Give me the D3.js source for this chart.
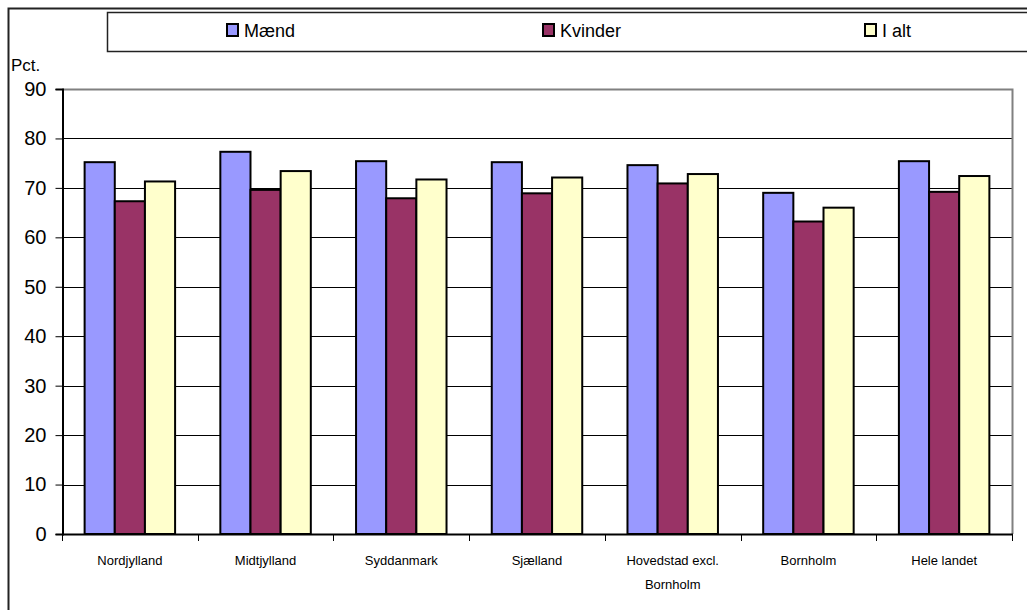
<!DOCTYPE html>
<head>
    <script type="text/javascript" src="https://d3js.org/d3.v7.min.js"></script>
    <style>
        body { margin: 0; }
        svg { font-family: Arial, "Liberation Sans", sans-serif; }
    </style>
</head>

<svg class="chart" width="1027" height="610"></svg>

<script>
    var regions = ["Nordjylland", "Midtjylland", "Syddanmark", "Sjælland", "Hovedstad excl. Bornholm", "Bornholm", "Hele landet"];
    var seriesNames = ["Mænd", "Kvinder", "I alt"];
    var maend   = [75.2, 77.3, 75.4, 75.2, 74.6, 69.0, 75.4];
    var kvinder = [67.3, 69.6, 67.9, 68.9, 70.9, 63.2, 69.2];
    var ialt    = [71.3, 73.4, 71.7, 72.1, 72.8, 66.0, 72.4];
    var yTicks  = [0, 10, 20, 30, 40, 50, 60, 70, 80, 90];
    var colors  = ["#9999ff", "#993366", "#ffffcc"];

    var series = [maend, kvinder, ialt];

    // note: "top" is reserved on window, so use plot* names
    var plotLeft = 62, plotRight = 1012, plotTop = 89, plotBottom = 534;

    var svg = d3.select(".chart");

    // outer chart frame
    svg.append("path")
        .attr("d", "M8.5,640 L8.5,8.5 L1100,8.5")
        .attr("fill", "none").attr("stroke", "#222").attr("stroke-width", 2);

    var x0 = d3.scaleBand().domain(regions).range([plotLeft, plotRight]).paddingInner(1.5 / 4.5).paddingOuter(0.75 / 4.5);
    var x1 = d3.scaleBand().domain(d3.range(3)).range([0, x0.bandwidth()]);
    var y = d3.scaleLinear().domain([0, 90]).range([plotBottom, plotTop]);

    // gridlines
    svg.append("g").selectAll("line")
        .data(yTicks.filter(function(d) { return d > 0 && d < 90; }))
        .enter().append("line")
        .attr("x1", plotLeft).attr("x2", plotRight)
        .attr("y1", function(d) { return Math.round(y(d)) + 0.5; })
        .attr("y2", function(d) { return Math.round(y(d)) + 0.5; })
        .attr("stroke", "#000").attr("stroke-width", 1);

    // plot border top/right (gray)
    svg.append("path")
        .attr("d", "M" + plotLeft + "," + (plotTop + 0.5) + " L" + (plotRight + 0.5) + "," + (plotTop + 0.5) + " L" + (plotRight + 0.5) + "," + plotBottom)
        .attr("fill", "none").attr("stroke", "#808080").attr("stroke-width", 2);

    // bars
    var groups = svg.append("g").selectAll("g")
        .data(regions)
        .enter().append("g")
        .attr("transform", function(d) { return "translate(" + x0(d) + ",0)"; });

    groups.selectAll("rect")
        .data(function(d, i) { return series.map(function(s, k) { return { k: k, v: s[i] }; }); })
        .enter().append("rect")
        .attr("x", function(d) { return x1(d.k); })
        .attr("width", x1.bandwidth())
        .attr("y", function(d) { return y(d.v); })
        .attr("height", function(d) { return plotBottom - y(d.v); })
        .attr("fill", function(d) { return colors[d.k]; })
        .attr("stroke", "#000").attr("stroke-width", 2);

    // y axis
    var yAxis = svg.append("g")
        .attr("transform", "translate(" + (plotLeft + 0.5) + ",0)")
        .call(d3.axisLeft(y).tickValues(yTicks).tickSize(7).tickPadding(9));
    yAxis.select(".domain").attr("stroke", "#000").attr("stroke-width", 2);
    yAxis.selectAll(".tick line").attr("stroke", "#000");
    yAxis.selectAll("text").attr("font-size", 20).attr("fill", "#000")
        .attr("font-family", "Arial, 'Liberation Sans', sans-serif");

    // x axis
    svg.append("line")
        .attr("x1", plotLeft).attr("x2", plotRight + 1)
        .attr("y1", plotBottom + 0.5).attr("y2", plotBottom + 0.5)
        .attr("stroke", "#000").attr("stroke-width", 2);

    var step = (plotRight - plotLeft) / regions.length;
    svg.append("g").selectAll("line")
        .data(d3.range(regions.length + 1))
        .enter().append("line")
        .attr("x1", function(d) { return Math.round(plotLeft + d * step) + 0.5; })
        .attr("x2", function(d) { return Math.round(plotLeft + d * step) + 0.5; })
        .attr("y1", plotBottom).attr("y2", plotBottom + 7)
        .attr("stroke", "#000");

    var xl = svg.append("g").selectAll("text")
        .data(regions)
        .enter().append("text")
        .attr("x", function(d) { return x0(d) + x0.bandwidth() / 2; })
        .attr("y", 565)
        .attr("text-anchor", "middle")
        .attr("font-size", 13);
    xl.each(function(d) {
        var t = d3.select(this);
        var lines = d === "Hovedstad excl. Bornholm" ? ["Hovedstad excl.", "Bornholm"] : [d];
        lines.forEach(function(l, i) {
            t.append("tspan").attr("x", x0(d) + x0.bandwidth() / 2).attr("dy", i ? 24 : 0).text(l);
        });
    });

    // Pct label
    svg.append("text").attr("x", 11).attr("y", 71).attr("font-size", 17).text("Pct.");

    // legend
    svg.append("rect")
        .attr("x", 107.5).attr("y", 12.5).attr("width", 1000).attr("height", 39)
        .attr("fill", "#fff").attr("stroke", "#222").attr("stroke-width", 1.5);

    var legX = [227, 543, 865];
    var leg = svg.append("g").selectAll("g")
        .data(seriesNames)
        .enter().append("g")
        .attr("transform", function(d, i) { return "translate(" + legX[i] + ",24)"; });
    leg.append("rect")
        .attr("width", 11).attr("height", 12)
        .attr("fill", function(d, i) { return colors[i]; })
        .attr("stroke", "#000").attr("stroke-width", 2);
    leg.append("text")
        .attr("x", 17).attr("y", 13)
        .attr("font-size", 18)
        .text(function(d) { return d; });
</script>
